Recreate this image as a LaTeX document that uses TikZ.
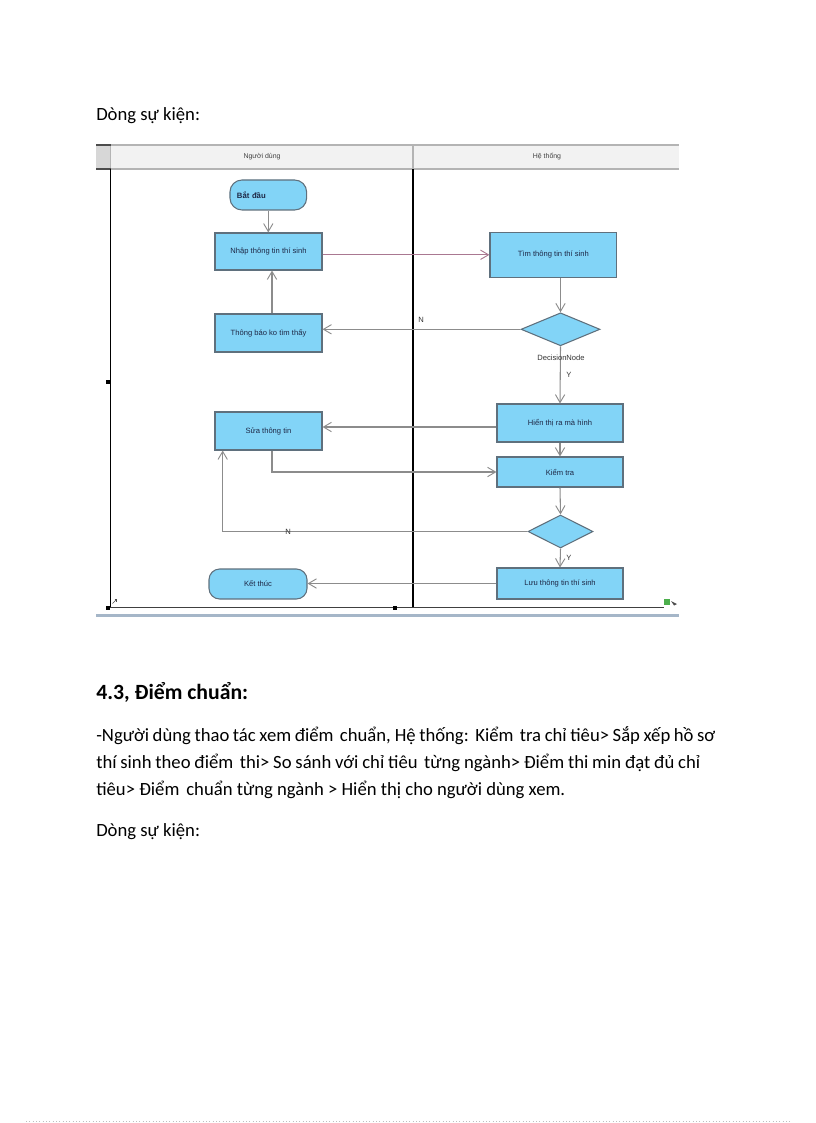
\documentclass[tikz,border=0pt]{standalone}
\usepackage{fontspec}
\setmainfont{Carlito}
\newfontfamily\dfont{Liberation Sans}
\usetikzlibrary{arrows.meta,shapes.geometric}
\definecolor{actfill}{RGB}{130,212,247}
\definecolor{bord}{RGB}{95,112,125}
\definecolor{acttext}{RGB}{30,40,70}
\definecolor{conn}{RGB}{140,140,140}
\definecolor{mauve}{RGB}{170,120,145}
\definecolor{hdrfill}{RGB}{242,242,242}
\definecolor{hdrcell}{RGB}{215,215,215}
\definecolor{hdrline}{RGB}{180,180,180}
\definecolor{bluegray}{RGB}{165,182,200}
\begin{document}
\begin{tikzpicture}[x=0.75pt,y=-0.75pt,
  act/.style={draw=bord, fill=actfill, line width=0.8pt, text=acttext,
    font=\dfont\fontsize{5.7}{6.8}\selectfont, inner sep=0pt, align=center},
  rnd/.style={act, rounded corners=9pt},
  dec/.style={act, diamond, inner sep=0pt},
  arr/.style={draw=conn, line width=0.8pt, -{Straight Barb[length=6pt,width=7pt,line width=0.7pt]}},
  lbl/.style={font=\dfont\fontsize{5.7}{6.8}\selectfont, text=black!80, inner sep=0pt},
  hlbl/.style={font=\dfont\fontsize{5.2}{6}\selectfont, text=black!75, inner sep=0pt},
  body/.style={anchor=base west, inner sep=0pt, font=\fontsize{14}{17}\selectfont}
]
\useasboundingbox (0,0) rectangle (816,1123);

% ---------- body text ----------
\node[body] (t1) at (96,121) {Dòng sự kiện:};
\node[body, font=\bfseries\fontsize{16.3}{19}\selectfont] (h43) at (96,699) {4.3, Điểm chuẩn:};
\node[body] (p1) at (96,741) {\hbox to 464.25pt{\spaceskip=1.5pt plus 20pt -Người dùng thao tác xem điểm\hspace{2pt} chuẩn, Hệ thống: Kiểm\hspace{2pt} tra chỉ tiêu> Sắp xếp hồ sơ}};
\node[body] (p2) at (96,768) {\hbox to 453pt{\spaceskip=1.5pt plus 20pt thí sinh theo điểm\hspace{2pt} thi> So sánh với chỉ tiêu\hspace{2pt} từng ngành> Điểm thi min đạt đủ chỉ}};
\node[body] (p3) at (96,795) {tiêu> Điểm\hspace{2pt} chuẩn từng ngành > Hiển thị cho người dùng xem.};
\node[body] (t2) at (96,836) {Dòng sự kiện:};

% ---------- swimlane frame ----------
\fill[hdrfill] (96,145) rectangle (679,169);
\fill[hdrcell] (96,145) rectangle (110.5,169);
\draw[hdrline, line width=1pt] (96,145) -- (679,145);
\draw[hdrline, line width=1pt] (96,169) -- (679,169);
\draw[hdrline, line width=0.8pt] (110.5,145) -- (110.5,169);
\draw[hdrline, line width=0.8pt] (413,145) -- (413,169);
\draw[black!70, line width=1pt] (96,145) -- (110.5,145);
\draw[black!70, line width=1pt] (96,169) -- (110.5,169);
\node[hlbl] (lane1) at (262,157) {Người dùng};
\node[hlbl] (lane2) at (547,157) {Hệ thống};

\draw[black, line width=0.9pt] (110.5,169) -- (110.5,607.5);
\draw[black, line width=1.6pt] (413,169) -- (413,607.5);
\draw[black!75, line width=0.9pt] (108,607.5) -- (664,607.5);
\draw[bluegray, line width=2.2pt] (96,615.5) -- (679,615.5);
\fill[black] (106,379.5) rectangle (110,383.5);
\fill[black] (106,605.5) rectangle (110,609.5);
\fill[black] (393,605.5) rectangle (397,609.5);
% small corner icons
\draw[black!70, line width=0.5pt] (112.5,603.5) -- (116.5,599.5);
\draw[black!70, line width=0.5pt] (114.5,599.5) -- (116.5,599.5) -- (116.5,601.5);
\fill[green!55!black!70] (664,599) rectangle (670,605);
\fill[black!70] (671,601) -- (677,604) -- (674,605.5) -- cycle;

% ---------- activity nodes ----------
\node[rnd, minimum width=57.5pt, minimum height=22.5pt, text width=47pt, align=left,
      font=\dfont\bfseries\fontsize{5.8}{6.8}\selectfont] (start) at (268.3,195) {Bắt đầu\\[3pt]};
\node[act, minimum width=80.25pt, minimum height=27.75pt] (nhap) at (268.5,251.5) {Nhập thông tin thí sinh};
\node[act, minimum width=95pt, minimum height=33.75pt] (tim) at (553.3,254.8) {Tìm thông tin thí sinh};
\node[dec, minimum width=59.25pt, minimum height=24.75pt] (d1) at (560.5,329.3) {};
\node[act, minimum width=80.25pt, minimum height=28.5pt] (tb) at (268.5,333) {Thông báo ko tìm thấy};
\node[act, minimum width=94.5pt, minimum height=28.5pt] (hien) at (560,423) {Hiển thị ra mà hình};
\node[act, minimum width=80.25pt, minimum height=28.5pt] (sua) at (268.5,431) {Sửa thông tin};
\node[act, minimum width=94.5pt, minimum height=22.5pt] (kiem) at (560,472) {Kiểm tra};
\node[dec, minimum width=48.75pt, minimum height=24.75pt] (d2) at (560.5,531.5) {};
\node[act, minimum width=94.5pt, minimum height=23.25pt] (luu) at (560,583.5) {Lưu thông tin thí sinh};
\node[rnd, rounded corners=8pt, minimum width=73.5pt, minimum height=22.5pt] (ket) at (258,584) {Kết thúc};

% helper coordinates
\coordinate (xa) at (272,0);
\coordinate (xb) at (222.7,0);
\coordinate (ya) at (0,427);

% ---------- connectors ----------
\draw[arr] (start.south) -- (start.south |- nhap.north);
\draw[arr, draw=mauve] (nhap.east |- tim.west) -- (tim.west);
\draw[arr] (tim.south -| d1.north) -- (d1.north);
\draw[arr] (d1.west) -- (d1.west -| tb.east);
\draw[arr] (tb.north -| xa) -- (nhap.south -| xa);
\draw[arr] (d1.south) -- (hien.north);
\draw[arr] (hien.west |- ya) -- (sua.east |- ya);
\draw[arr] (sua.south -| xa) |- (kiem.west);
\draw[arr] (hien.south) -- (kiem.north);
\draw[arr] (kiem.south) -- (d2.north);
\draw[arr] (d2.west) -| (sua.south -| xb);
\draw[arr] (d2.south) -- (luu.north);
\draw[arr] (luu.west) -- (luu.west -| ket.east);

% ---------- labels ----------
\node[lbl] (n1) at (421,320) {N};
\node[lbl] (dn) at (561,358) {DecisionNode};
\node[lbl] (y1) at (569,375) {Y};
\node[lbl] (n2) at (288,531.5) {N};
\node[lbl] (y2) at (569,558) {Y};

% page bottom dotted rule
\draw[black!25, line width=0.5pt, dotted] (26,1121) -- (790,1121);
\end{tikzpicture}
\end{document}
